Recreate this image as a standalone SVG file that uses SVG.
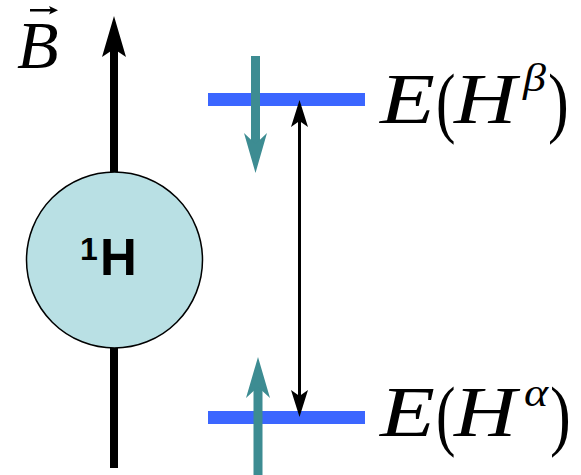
<svg xmlns="http://www.w3.org/2000/svg" width="581" height="475" viewBox="0 0 581 475">
<style>
.math{font-family:"Liberation Serif","Times New Roman",serif;fill:#000}
.it{font-style:italic}
.big{font-size:72px}
.par{font-size:78px}
.sup{font-size:40px}
.level{fill:#3b66ff}
.teal{fill:#3d8c92}
.blk{fill:#000}
</style>
<rect width="581" height="475" fill="#fff"/>
<g id="connectors">
<rect id="axis-shaft" class="blk" x="110" y="48" width="8" height="420"/>
<polygon class="blk" points="114,16 126,57 114,49 102,57"/>
</g>
<g id="nucleus">
<circle cx="114.5" cy="260" r="88" fill="#b9e0e4" stroke="#000" stroke-width="1.5"/>
<text x="80" y="260" font-family="Liberation Sans, Arial, sans-serif" font-weight="bold" font-size="32">1</text>
<text x="100" y="275" font-family="Liberation Sans, Arial, sans-serif" font-weight="bold" font-size="51">H</text>
</g>
<g id="field-label">
<text class="math it" x="17" y="68" font-size="68">B</text>
<rect class="blk" x="30" y="9" width="22" height="2.5"/>
<polygon class="blk" points="58,10.2 49,6 51,10.2 49,14.5"/>
</g>
<g id="level-beta">
<rect class="level" x="208" y="93" width="157" height="13"/>
<text class="math it big" transform="translate(380,123) scale(1.25,1)">E</text>
<text class="math par" transform="translate(436,128) scale(0.75,1)">(</text>
<text class="math it big" transform="translate(454,123) scale(1.2,1)">H</text>
<text class="math it sup" transform="translate(523,91) scale(1.15,1)">β</text>
<text class="math par" transform="translate(548,128) scale(0.8,1)">)</text>
</g>
<g id="level-alpha">
<rect class="level" x="208" y="411" width="157" height="13"/>
<text class="math it big" transform="translate(380,436) scale(1.25,1)">E</text>
<text class="math par" transform="translate(436,441) scale(0.75,1)">(</text>
<text class="math it big" transform="translate(454,436) scale(1.2,1)">H</text>
<text class="math it sup" transform="translate(524,406) scale(1.15,1)">α</text>
<text class="math par" transform="translate(550,441) scale(0.8,1)">)</text>
</g>
<g id="spin-arrows">
<rect class="teal" x="251" y="56" width="9" height="92"/>
<polygon class="teal" points="255.5,173 267,133 255.5,144 244,133"/>
<rect class="teal" x="253.5" y="383" width="9" height="92"/>
<polygon class="teal" points="258,357 270,398 258,387 246,398"/>
</g>
<g id="transition">
<rect class="blk" x="298" y="118" width="3" height="281"/>
<polygon class="blk" points="299.5,100 308,127 299.5,121 291,127"/>
<polygon class="blk" points="299.5,417 308,390 299.5,396 291,390"/>
</g>
</svg>
